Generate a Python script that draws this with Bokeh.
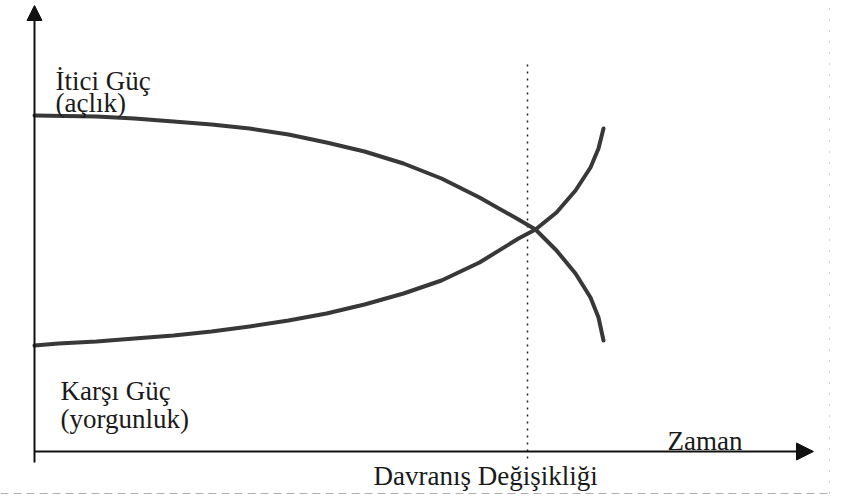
from bokeh.plotting import figure
from bokeh.models import Range1d, Arrow, NormalHead
from bokeh.core.properties import value
from bokeh.embed import file_html
from bokeh.resources import INLINE

# --- data (time on x, force on y; arbitrary units) ---
itici_time = [0.0, 6.2, 10.0, 13.9, 17.7, 21.5, 25.4, 29.2, 33.0, 36.9, 40.7,
              44.5, 48.4, 50.1, 52.2, 54.1, 55.6, 56.4, 56.9]
itici_force = [33.6, 33.5, 33.3, 33.0, 32.7, 32.3, 31.7, 30.9, 30.0, 28.8, 27.3,
               25.4, 23.2, 22.2, 20.1, 17.8, 15.4, 13.4, 11.1]

karsi_time = [0.0, 2.4, 6.2, 10.0, 13.9, 17.7, 21.5, 25.4, 29.2, 33.0, 36.9,
              40.7, 44.5, 48.4, 50.1, 52.2, 54.1, 55.6, 56.4, 56.9]
karsi_force = [10.6, 10.8, 11.0, 11.3, 11.6, 12.0, 12.5, 13.1, 13.8, 14.7, 15.8,
               17.1, 18.9, 21.3, 22.2, 23.9, 26.1, 28.4, 30.3, 32.3]

davranis_time = 49.3          # behaviour change marker
marker_span = [-0.7, 38.9]    # vertical extent of dotted marker

label_texts = ["İtici Güç", "(açlık)", "Karşı Güç", "(yorgunluk)", "Zaman",
               "Davranış Değişikliği"]
label_x = [2.1, 2.1, 2.6, 2.6, 63.3, 33.9]
label_y = [37.1, 34.9, 6.1, 3.3, 1.1, -2.4]

x_axis_end = 77.9
y_axis_end = 44.6
y_axis_start = -1.1

FONT = value("Liberation Serif, DejaVu Serif, serif")

p = figure(width=844, height=497,
           x_range=Range1d(-3.4, 81.0), y_range=Range1d(-4.6, 45.1),
           x_axis_type=None, y_axis_type=None,
           output_backend="svg", toolbar_location=None, min_border=0)
p.outline_line_color = None
p.background_fill_color = "white"
p.border_fill_color = "white"

# faint scan border (right and bottom)
p.segment(x0=[79.5], y0=[-4.2], x1=[79.5], y1=[45.1], line_color="#aaaaaa",
          line_width=1, line_dash="1 10")
p.segment(x0=[-3.4], y0=[-4.2], x1=[79.5], y1=[-4.2], line_color="#b0b0b0",
          line_width=1, line_dash="8 5")

# axes with arrow heads
p.add_layout(Arrow(end=NormalHead(size=15, fill_color="#111111", line_color="#111111"),
                   x_start=0, y_start=y_axis_start, x_end=0, y_end=y_axis_end,
                   line_width=2, line_color="#111111"))
p.add_layout(Arrow(end=NormalHead(size=17, fill_color="#111111", line_color="#111111"),
                   x_start=0, y_start=0, x_end=x_axis_end, y_end=0,
                   line_width=2, line_color="#111111"))

# dotted marker
p.segment(x0=[davranis_time], y0=[marker_span[0]], x1=[davranis_time], y1=[marker_span[1]],
          line_color="#222222", line_width=1.5, line_dash="2 5")

# curves
p.line(itici_time, itici_force, line_width=4, line_color="#383838",
       line_cap="round", line_join="round")
p.line(karsi_time, karsi_force, line_width=4, line_color="#383838",
       line_cap="round", line_join="round")

# labels
p.text(x=label_x, y=label_y, text=label_texts,
       text_font=FONT, text_font_size="27px",
       text_align="left", text_baseline="alphabetic", text_color="#1a1a1a")

open("out.html", "w").write(file_html(p, INLINE))
